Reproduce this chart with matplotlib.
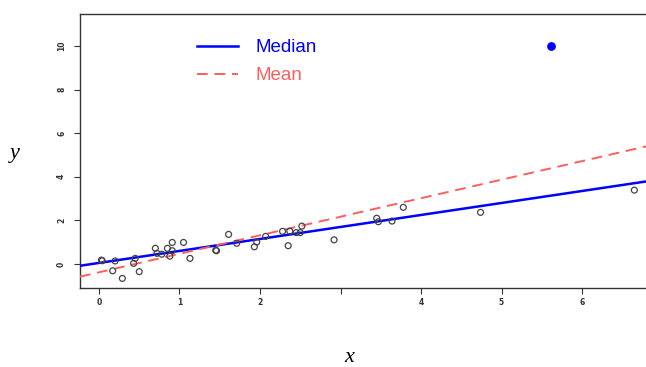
import numpy as np
import matplotlib
matplotlib.use("Agg")
import matplotlib.pyplot as plt
from matplotlib.lines import Line2D

# observed sample (open circles)
x_obs = [0.03, 0.04, 0.17, 0.20, 0.29, 0.43, 0.45, 0.50, 0.70, 0.72, 0.78,
         0.85, 0.88, 0.91, 0.91, 1.05, 1.13, 1.45, 1.46, 1.61, 1.71, 1.93,
         1.96, 2.07, 2.28, 2.35, 2.37, 2.45, 2.50, 2.52, 2.92, 3.45, 3.47,
         3.64, 3.78, 4.74, 6.65]
y_obs = [0.18, 0.15, -0.31, 0.14, -0.66, 0.03, 0.26, -0.35, 0.72, 0.49, 0.45,
         0.72, 0.36, 0.99, 0.61, 0.99, 0.26, 0.63, 0.61, 1.36, 0.95, 0.79,
         1.01, 1.27, 1.50, 0.84, 1.51, 1.44, 1.44, 1.74, 1.11, 2.10, 1.94,
         1.97, 2.60, 2.37, 3.39]

# outlier (filled blue)
x_out, y_out = [5.61], [10.0]

# fitted lines: intercept, slope
median_fit = (0.05, 0.55)
mean_fit = (-0.38, 0.85)

x_ticks = [0, 1, 2, 3, 4, 5, 6]
x_tick_labels = ["0", "1", "2", "", "4", "5", "6"]
y_ticks = [0, 2, 4, 6, 8, 10]

xlim = (-0.236, 6.795)
ylim = (-1.1, 11.47)

fig = plt.figure(figsize=(6.46, 3.67), dpi=100)
ax = fig.add_axes([80 / 646, 1 - 288 / 367, 1 - 80 / 646, (288 - 14) / 367])

xs = np.array(xlim)
ax.plot(xs, median_fit[0] + median_fit[1] * xs, color="#0000ff", lw=1.8,
        zorder=3)
ax.plot(xs, mean_fit[0] + mean_fit[1] * xs, color="#ff5e5e", lw=1.4,
        ls=(0, (5.5, 3.5)), zorder=3)
ax.scatter(x_obs, y_obs, s=18, facecolors="none", edgecolors="#444444",
           linewidths=0.9, zorder=4)
ax.scatter(x_out, y_out, s=28, color="#0000ff", zorder=5)

ax.set_xlim(*xlim)
ax.set_ylim(*ylim)
ax.spines["right"].set_visible(False)
for sp in ("left", "bottom", "top"):
    ax.spines[sp].set_color("#333333")
    ax.spines[sp].set_linewidth(1.0)

ax.set_xticks(x_ticks)
ax.set_xticklabels(x_tick_labels)
ax.set_yticks(y_ticks)
ax.set_yticklabels([str(v) for v in y_ticks], rotation=90, va="center")
ax.tick_params(axis="both", direction="out", length=4, width=0.8,
               color="#333333", labelsize=5.5, labelcolor="#333333")
ax.tick_params(axis="y", pad=6)
ax.tick_params(axis="x", pad=3)
for lab in ax.get_xticklabels() + ax.get_yticklabels():
    lab.set_fontweight("bold")

handles = [Line2D([], [], color="#0000ff", lw=1.8),
           Line2D([], [], color="#ff5e5e", lw=1.4, ls=(0, (5.5, 3.5)))]
ax.legend(handles, ["Median", "Mean"], loc="upper left",
          bbox_to_anchor=(197 / 646, 1 - 39 / 367),
          bbox_transform=fig.transFigure, frameon=False,
          handlelength=2.2, handletextpad=0.9, labelspacing=0.6,
          borderpad=0, borderaxespad=0, labelcolor="linecolor",
          prop={"family": "Liberation Sans", "size": 13.5})

fig.text(15 / 646, 1 - 153 / 367, "y", fontsize=16, style="italic",
         family="Liberation Serif", ha="center", va="center")
fig.text(349 / 646, 1 - 358 / 367, "x", fontsize=16, style="italic",
         family="Liberation Serif", ha="center", va="center")

fig.savefig("out.png", dpi=100)
